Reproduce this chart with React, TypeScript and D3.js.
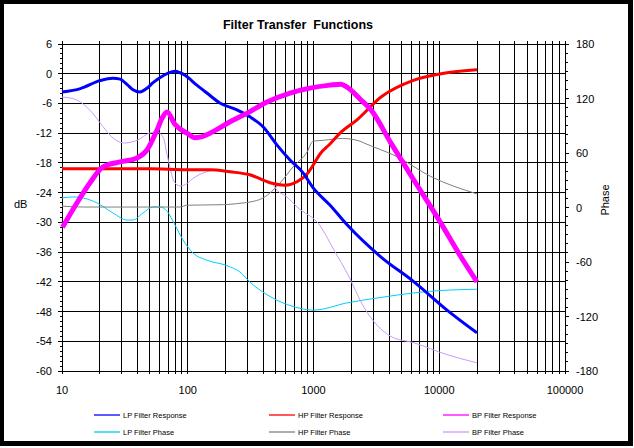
import React from 'react';
import * as d3 from 'd3';

type Pt = [number, number];

const dbTicks = [6, 0, -6, -12, -18, -24, -30, -36, -42, -48, -54, -60];
const phaseTicks = [180, 120, 60, 0, -60, -120, -180];
const freqTicks = [10, 100, 1000, 10000, 100000];
const freqTickLabels = ['10', '100', '1000', '10000', '100000'];

const lpResponse: Pt[] = [
  [10, -3.7], [14, -3.0], [20, -1.4], [25.4, -0.9], [29, -1.1], [33, -2.2], [37, -3.3],
  [41.7, -3.7], [47, -3.0], [53, -1.8], [60, -0.8], [69.7, 0.1], [79, 0.5], [87, 0.2],
  [95, -0.3], [118, -2.3], [142, -3.9], [180, -5.9], [246, -7.3], [312, -8.7], [397, -10.7],
  [513, -14.4], [650, -17.4], [826, -20], [991, -23], [1350, -26.5], [1850, -30.5],
  [3444, -37], [6297, -42], [11530, -47.7], [19950, -52.3],
];

const hpResponse: Pt[] = [
  [10, -19.2], [20, -19.2], [50, -19.2], [100, -19.4], [150, -19.4], [217, -19.8],
  [312, -20.4], [451, -22], [593, -22.5], [739, -21.8], [904, -20], [991, -18.5],
  [1127, -16.2], [1352, -14.2], [1626, -12], [2218, -9.3], [3444, -4.7], [6297, -1.3],
  [11530, 0.2], [19950, 0.8],
];

const bpResponse: Pt[] = [
  [10.1, -31], [13.2, -26], [16.7, -22], [21.2, -18.8], [28.9, -17.8], [39.5, -17],
  [47.4, -15.4], [56.9, -11.4], [62.4, -9], [68.4, -7.7], [79, -10.2], [98.6, -12],
  [114, -12.9], [125, -12.8], [150, -12], [217, -9.7], [295, -8], [427, -5.7], [650, -3.9],
  [938, -2.9], [1352, -2.3], [1650, -2.1], [1850, -2.7], [2387, -5.3], [2866, -7.3],
  [4131, -14], [6297, -21.5], [10330, -30.2], [14900, -37], [19950, -42],
];

const lpPhase: Pt[] = [
  [10, 10.5], [12.2, 11.6], [14.7, 10.5], [19, 5], [25.4, -6], [32.9, -13.8], [36.7, -13.8],
  [44.1, -6], [53, 0.6], [60, 0.6], [68.4, -4], [79, -19], [91, -35], [110, -50], [142, -58],
  [205, -64], [260, -71], [312, -82], [427, -96], [572, -105], [780, -111], [1000, -113],
  [1850, -105], [3444, -99], [6297, -94], [11530, -91], [19950, -90],
];

const hpPhase: Pt[] = [
  [10, 1.5], [15, 0.5], [87, 0.5], [98, 2.5], [171, 3], [217, 3.5], [275, 5], [312, 6],
  [397, 10.5], [542, 27], [687, 44.6], [888, 61], [991, 73], [1200, 74], [1700, 76],
  [2343, 73], [2523, 71], [4613, 56], [8596, 34], [19950, 15],
];

const bpPhase: Pt[] = [
  [10, 121.6], [12.2, 120], [16.7, 107], [21.2, 89], [25.4, 76.5], [31.7, 71], [39.5, 74],
  [50, 82], [56.9, 83], [64, 77], [68, 60], [72, 45], [76, 32], [82, 25], [87, 23.6],
  [100, 27], [110, 32], [171, 41], [246, 39], [355, 32], [476, 25], [513, 19], [615, 11.6],
  [739, 0.6], [1127, -20], [1456, -47], [1847, -72], [2523, -110], [4131, -142],
  [6297, -149], [11530, -162], [19950, -171],
];

const seriesNames = [
  'LP Filter Response', 'HP Filter Response', 'BP Filter Response',
  'LP Filter Phase', 'HP Filter Phase', 'BP Filter Phase',
];

const W = 634;
const H = 448;
const PL = 62, PR = 565, PT = 44, PB = 371;

export default function App() {
  const x = d3.scaleLog().domain([10, 100000]).range([PL, PR]);
  const yDb = d3.scaleLinear().domain([-60, 6]).range([PB, PT]);
  const yPh = d3.scaleLinear().domain([-180, 180]).range([PB, PT]);

  const lineDb = d3.line<Pt>().x(d => x(d[0])).y(d => yDb(d[1])).curve(d3.curveMonotoneX);
  const linePh = d3.line<Pt>().x(d => x(d[0])).y(d => yPh(d[1])).curve(d3.curveMonotoneX);

  const vLines: number[] = [];
  for (let dec = 10; dec < 100000; dec *= 10) {
    for (let m = 1; m <= 9; m++) vLines.push(dec * m);
  }
  vLines.push(100000);

  const dbMinor: number[] = [];
  for (let v = -60; v <= 6; v += 1) dbMinor.push(v);
  const phMinor: number[] = [];
  for (let v = -180; v <= 180; v += 10) phMinor.push(v);

  const font = 'Arial, "Liberation Sans", Helvetica, sans-serif';

  const series = [
    { name: seriesNames[0], data: lpResponse, color: '#0000FF', width: 3, axis: 'db' },
    { name: seriesNames[1], data: hpResponse, color: '#FF0000', width: 3, axis: 'db' },
    { name: seriesNames[2], data: bpResponse, color: '#FF00FF', width: 5, axis: 'db' },
    { name: seriesNames[3], data: lpPhase, color: '#00CCFF', width: 1, axis: 'ph' },
    { name: seriesNames[4], data: hpPhase, color: '#808080', width: 1, axis: 'ph' },
    { name: seriesNames[5], data: bpPhase, color: '#CC99FF', width: 1, axis: 'ph' },
  ];
  const drawOrder = [3, 4, 5, 1, 0, 2];

  const legendCols = [94, 269, 443];
  const legendRows = [415, 432];

  return (
    <svg width={W} height={H} style={{ position: 'absolute', left: 0, top: 0 }} fontFamily={font}>
      <rect x={0} y={0} width={633} height={446} fill="#000" />
      <rect x={4} y={4} width={624} height={437} fill="#fff" />

      <text x={298} y={28.5} textAnchor="middle" fontSize={12.5} fontWeight="bold" style={{ whiteSpace: 'pre' }}>
        {'Filter Transfer  Functions'}
      </text>

      {/* horizontal grid */}
      {dbTicks.map(v => (
        <line key={'h' + v} x1={PL} x2={PR} y1={yDb(v)} y2={yDb(v)} stroke="#000" strokeWidth={1} shapeRendering="crispEdges" />
      ))}
      {/* vertical grid */}
      {vLines.map(v => (
        <line key={'v' + v} x1={x(v)} x2={x(v)} y1={PT - 3} y2={PB + 3} stroke="#000" strokeWidth={1} shapeRendering="crispEdges" />
      ))}
      {/* left ticks */}
      {dbMinor.map(v => (
        <line key={'lm' + v} x1={PL - (v % 6 === 0 ? 4 : 2)} x2={PL} y1={yDb(v)} y2={yDb(v)} stroke="#000" strokeWidth={1} shapeRendering="crispEdges" />
      ))}
      {/* right ticks */}
      {phMinor.map(v => (
        <line key={'rm' + v} x1={PR} x2={PR + (v % 60 === 0 ? 4 : 3)} y1={yPh(v)} y2={yPh(v)} stroke="#000" strokeWidth={1} shapeRendering="crispEdges" />
      ))}

      {dbTicks.map(v => (
        <text key={'lt' + v} x={52} y={yDb(v) + 4} textAnchor="end" fontSize={11}>{v}</text>
      ))}
      {phaseTicks.map(v => (
        <text key={'rt' + v} x={576} y={yPh(v) + 4} textAnchor="start" fontSize={11}>{v}</text>
      ))}
      {freqTicks.map((v, i) => (
        <text key={'bt' + v} x={x(v)} y={394} textAnchor="middle" fontSize={11}>{freqTickLabels[i]}</text>
      ))}

      <text x={14} y={207.5} fontSize={11}>dB</text>
      <text transform="translate(609,200) rotate(-90)" textAnchor="middle" fontSize={11}>Phase</text>

      {drawOrder.map(i => {
        const s = series[i];
        const d = s.axis === 'db' ? lineDb(s.data) : linePh(s.data);
        return (
          <path key={s.name} d={d || ''} fill="none" stroke={s.color} strokeWidth={s.width}
            strokeLinejoin="round" strokeLinecap="butt" />
        );
      })}

      {series.map((s, i) => {
        const cx = legendCols[i % 3];
        const cy = legendRows[Math.floor(i / 3)];
        return (
          <g key={'lg' + i}>
            <line x1={cx} x2={cx + 26} y1={cy} y2={cy} stroke={s.color} strokeWidth={1.3} />
            <text x={cx + 29} y={cy + 2.7} fontSize={7.5}>{s.name}</text>
          </g>
        );
      })}
    </svg>
  );
}
